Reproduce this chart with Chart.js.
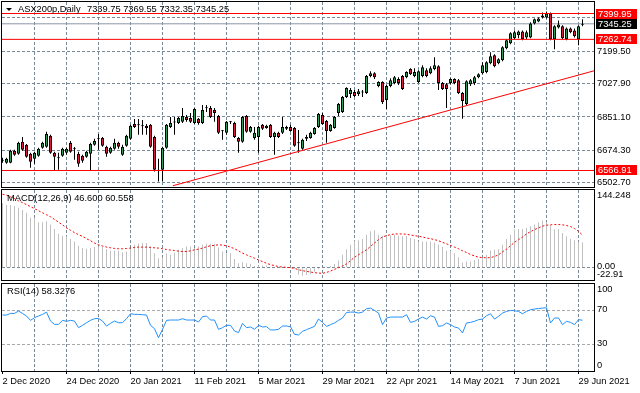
<!DOCTYPE html>
<html>
<head>
<meta charset="utf-8">
<script src="https://cdn.jsdelivr.net/npm/chart.js@4.4.1/dist/chart.umd.min.js"></script>
<style>
  html, body { margin: 0; padding: 0; background: #fff; }
  #wrap { position: relative; width: 640px; height: 393px; overflow: hidden; background: #fff; }
  canvas { position: absolute; left: 0; }
</style>
</head>
<body>
<div id="wrap">
  <canvas id="priceChart" width="640" height="188" style="top:0px"></canvas>
  <canvas id="macdChart" width="640" height="94" style="top:188px"></canvas>
  <canvas id="rsiChart" width="640" height="111" style="top:282px"></canvas>
</div>
<script>
// ASX200p daily bars, 2 Dec 2020 .. 30 Jun 2021
const opens = [6619,6608,6608,6672,6656,6719,6703,6656,6629,6645,
  6687,6693,6751,6661,6637,6645,6661,6714,6680,6656,
  6645,6640,6656,6703,6733,6740,6693,6661,6682,6714,
  6650,6698,6735,6814,6807,6805,6804,6809,6745,6571,
  6571,6687,6798,6822,6819,6825,6851,6846,6819,6841,
  6819,6897,6899,6888,6856,6775,6767,6823,6819,6740,
  6719,6856,6772,6740,6745,6809,6793,6809,6745,6767,
  6767,6788,6798,6793,6711,6682,6735,6740,6761,6798,
  6862,6830,6777,6793,6872,6877,6957,6973,6983,6973,
  6981,6978,7068,7083,7015,7036,6941,7015,7031,7052,
  7068,7062,7105,7068,7036,7068,7099,7083,7105,7120,
  7031,7025,7031,7052,7046,6978,6920,7025,7031,7062,
  7083,7089,7136,7178,7136,7152,7215,7242,7268,7284,
  7305,7273,7273,7347,7358,7379,7379,7400,7263,7326,
  7332,7263,7321,7310,7263,7339.75];
const highs = [6635,6635,6677,6677,6719,6745,6708,6661,6666,6687,
  6719,6772,6756,6666,6661,6687,6687,6724,6692,6666,
  6650,6672,6714,6735,6761,6745,6698,6693,6735,6719,
  6703,6756,6809,6840,6840,6835,6814,6814,6751,6629,
  6693,6814,6851,6851,6851,6899,6862,6872,6899,6846,
  6914,6914,6909,6899,6862,6782,6830,6830,6825,6745,
  6856,6862,6803,6798,6804,6814,6809,6814,6772,6772,
  6851,6804,6809,6798,6782,6735,6756,6772,6798,6872,
  6872,6835,6814,6856,6925,6962,7009,7004,6994,6999,
  6994,7073,7094,7088,7041,7041,7020,7057,7068,7062,
  7073,7094,7110,7110,7099,7126,7110,7120,7168,7126,
  7036,7031,7057,7057,7052,6983,7046,7052,7068,7083,
  7141,7147,7194,7184,7163,7226,7263,7300,7310,7310,
  7310,7310,7353,7374,7379,7405,7411,7405,7337,7363,
  7337,7326,7326,7321,7337,7369.55];
const lows = [6608,6603,6605,6645,6650,6672,6635,6582,6603,6640,
  6682,6687,6656,6566,6571,6640,6650,6661,6624,6587,
  6608,6635,6566,6698,6677,6693,6640,6656,6677,6682,
  6645,6693,6730,6793,6756,6756,6756,6687,6561,6508,
  6508,6682,6793,6756,6814,6819,6825,6819,6814,6809,
  6814,6877,6846,6825,6761,6730,6756,6814,6740,6661,
  6714,6767,6767,6730,6661,6782,6788,6740,6650,6740,
  6761,6782,6772,6693,6661,6677,6724,6735,6756,6793,
  6809,6714,6772,6788,6856,6872,6951,6951,6957,6962,
  6957,6973,7062,7052,7009,6920,6893,7009,7025,7020,
  6994,7057,7073,7062,7031,7062,7062,7078,7099,6994,
  6994,6899,7025,7025,6973,6841,6914,7015,7020,7057,
  7078,7083,7131,7115,7131,7147,7210,7237,7263,7268,
  7258,7263,7268,7342,7353,7374,7374,7258,7210,7321,
  7263,7258,7295,7273,7231,7332.35];
const closes = [6624,6629,6672,6650,6714,6677,6640,6613,6661,6682,
  6714,6761,6661,6640,6632,6682,6682,6666,6684,6603,
  6619,6666,6708,6724,6737,6698,6656,6687,6714,6693,
  6693,6751,6804,6798,6810,6802,6793,6693,6571,6563,
  6687,6809,6819,6827,6846,6856,6835,6825,6893,6819,
  6888,6900,6851,6872,6767,6779,6825,6826,6745,6719,
  6851,6772,6798,6767,6798,6788,6804,6745,6767,6745,
  6798,6798,6777,6698,6716,6730,6745,6767,6793,6867,
  6814,6777,6809,6851,6920,6957,7004,6994,6962,6988,
  6985,7068,7083,7062,7036,6930,7015,7046,7062,7031,
  6999,7089,7078,7089,7094,7115,7068,7110,7126,7031,
  6999,6999,7052,7031,6978,6936,7041,7046,7062,7078,
  7126,7141,7173,7120,7157,7221,7258,7295,7300,7305,
  7263,7300,7347,7369,7374,7390,7400,7263,7332,7342,
  7268,7321,7300,7279,7332,7345.25];

// MACD(12,26,9): main histogram and signal
const macdMain = [119.6,116.4,116.4,114.6,111.4,107.0,102.0,92.6,92.6,84.5,
  84.5,86.4,80.1,72.0,63.2,59.5,58.2,53.2,48.8,40.7,
  36.3,35.1,36.3,38.2,39.4,38.2,34.4,31.9,31.9,31.3,
  28.8,30.0,36.3,42.6,44.4,45.7,45.7,39.4,26.9,17.5,
  19.4,26.9,23.8,28.2,33.2,36.3,39.4,39.4,36.3,39.4,
  42.6,44.4,44.4,44.4,37.6,30.0,26.9,26.9,16.3,8.1,
  10.0,8.1,6.9,3.1,3.8,3.8,3.8,1.9,-1.3,0.6,
  0.6,0.0,1.9,-3.1,-13.0,-15.0,-13.8,-11.9,-7.5,-3.1,
  -1.3,1.9,3.1,6.9,13.1,23.8,34.4,42.6,50.1,50.7,
  53.2,61.3,67.6,69.5,61.3,59.5,58.2,60.1,61.3,59.5,
  58.2,59.5,55.1,53.2,48.8,48.8,48.8,48.8,46.9,42.6,
  38.2,31.9,31.3,26.9,19.4,9.4,11.3,11.3,14.4,15.7,
  18.8,23.8,31.9,33.2,34.4,42.6,53.2,61.3,70.7,72.0,
  72.0,73.9,77.0,80.1,84.5,87.6,84.5,78.3,70.7,72.0,
  64.5,58.2,53.2,50.7,48.2,46.600];
const macdSignal = [136.5,134.6,131.5,128.3,124.0,120.8,117.1,113.3,109.6,105.8,
  102.0,98.3,94.5,89.5,84.5,79.5,73.9,69.5,65.1,61.3,
  58.2,53.8,50.1,45.7,42.6,40.1,38.2,36.9,35.7,35.1,
  35.1,35.7,36.3,37.6,38.2,38.2,38.2,37.6,36.9,36.3,
  35.1,33.8,32.6,31.9,30.7,30.0,30.0,31.3,33.2,34.4,
  36.3,38.8,40.7,41.3,42.6,41.9,40.7,38.2,35.1,31.3,
  26.9,23.8,20.7,17.5,14.4,11.3,8.1,5.6,3.8,1.9,
  1.3,0.6,0.0,-1.3,-3.8,-5.6,-6.9,-8.1,-9.4,-10.0,
  -10.6,-8.8,-6.3,-3.1,0.0,3.1,6.9,13.1,19.4,23.8,
  28.8,33.2,39.4,45.7,52.0,57.0,59.5,61.3,62.6,62.6,
  62.6,62.0,60.7,59.5,58.2,57.0,55.1,53.8,52.0,50.1,
  47.0,44.4,41.3,38.2,35.1,31.3,28.2,24.4,21.9,19.4,
  18.8,18.2,18.8,20.7,23.8,29.4,34.4,40.7,47.0,52.0,
  57.0,62.6,67.0,70.7,73.9,77.0,78.9,79.5,80.1,80.1,
  79.5,78.3,76.4,72.6,67.6,60.558];

// RSI(14)
const rsi = [64.3,64.3,66.2,66.2,68.9,66.2,63.2,58.2,61.3,63.2,
  65.1,67.7,57.4,53.6,53.6,58.2,57.1,58.2,57.4,49.8,
  52.5,55.5,58.2,60.1,60.5,57.4,51.7,54.8,57.4,55.5,
  55.5,60.1,65.8,65.1,65.1,64.7,64.3,52.5,48.7,38.2,
  47.9,58.2,58.6,58.6,58.6,60.1,58.6,58.6,58.6,56.3,
  62.4,63.2,58.6,58.6,47.9,49.8,52.5,52.5,46.0,44.1,
  54.8,49.8,50.6,47.9,52.5,50.6,51.0,47.2,47.2,47.9,
  51.7,51.7,51.0,42.2,41.4,45.6,47.5,49.4,51.3,59.7,
  55.9,51.3,53.3,55.2,58.2,60.9,67.3,67.7,67.7,66.6,
  67.7,71.5,72.3,69.6,66.6,53.3,60.9,62.0,62.0,62.0,
  62.0,64.7,55.9,57.1,59.7,62.0,59.7,63.5,62.0,51.3,
  52.1,55.2,53.3,50.6,49.4,43.7,55.2,55.9,57.1,59.0,
  59.7,63.5,65.8,59.7,62.8,66.6,68.5,69.6,69.3,68.5,
  65.8,68.5,70.4,71.2,71.9,72.3,72.7,55.2,60.9,60.9,
  53.3,57.1,55.9,53.3,59.0,58.3276];

// axis labels
const dateLabels = ['2 Dec 2020', '24 Dec 2020', '20 Jan 2021', '11 Feb 2021', '5 Mar 2021',
  '29 Mar 2021', '22 Apr 2021', '14 May 2021', '7 Jun 2021', '29 Jun 2021'];
const dateBars = [0, 16, 32, 48, 64, 80, 96, 112, 128, 144];
const gridBars = [8, 16, 24, 32, 40, 48, 56, 64, 72, 80, 88, 96, 104, 112, 120, 128, 136, 144];
const priceTicks = [7376.30, 7199.50, 7027.90, 6851.10, 6674.30, 6502.70];
const macdTicks = [144.248, 0, -22.91];
const macdTickText = ['144.248', '0.00', '-22.91'];
const rsiTicks = [100, 70, 30, 0];
const rsiLevels = [70, 30];

// objects drawn on the chart
const redLevels = [7399.95, 7262.74, 6566.91];
const trendLine = [{ x: 42.6, y: 6486 }, { x: 147.9, y: 7096 }];

const X_MIN = -0.125, X_MAX = 147.875;
const PRICE_MIN = 6479.36, PRICE_MAX = 7460.97;
const FONT_FAMILY = '"Liberation Sans", Arial, Helvetica, sans-serif';
const FONT_SIZE = 9.3;
const font = { family: FONT_FAMILY, size: FONT_SIZE };
const fontCss = FONT_SIZE + 'px ' + FONT_FAMILY;
const GRID = '#778899';
const UP = '#2f9e5c', DOWN = '#d81b3c';

const last = closes.length - 1;

function noPadding(s) {
  s.paddingTop = 0; s.paddingBottom = 0; s.paddingLeft = 0; s.paddingRight = 0;
}

function xAxis(showLabels) {
  return {
    type: 'linear', min: X_MIN, max: X_MAX, bounds: 'data', offset: false,
    afterBuildTicks: s => { s.ticks = (showLabels ? [0].concat(gridBars) : gridBars).map(v => ({ value: v })); },
    afterFit: s => { s.height = showLabels ? 22 : 0; noPadding(s); },
    grid: {
      offset: false,
      color: c => (c.tick && c.tick.value === 0) ? 'rgba(0,0,0,0)' : GRID,
      lineWidth: 1,
      drawTicks: showLabels,
      tickLength: 3,
      tickColor: c => (c.tick && dateBars.includes(c.tick.value)) ? '#000' : 'rgba(0,0,0,0)'
    },
    border: { display: false, dash: [3, 2] },
    ticks: {
      display: showLabels, autoSkip: false, maxRotation: 0, minRotation: 0,
      align: 'start', padding: 2, color: '#000', font: font,
      callback: v => { const k = dateBars.indexOf(v); return k >= 0 ? dateLabels[k] : ''; }
    }
  };
}

function yAxis(min, max, tickVals, showLabels, gridColor) {
  return {
    type: 'linear', position: 'right', min: min, max: max, bounds: 'data',
    afterBuildTicks: s => { s.ticks = tickVals.map(v => ({ value: v })); },
    afterFit: s => { s.width = 46; noPadding(s); },
    grid: { color: gridColor, lineWidth: 1, drawTicks: false },
    border: { display: false, dash: [3, 2] },
    ticks: { display: showLabels, padding: 3, color: '#000', font: font, callback: v => v.toFixed(2) }
  };
}

function baseOptions(padBottom, xLabels, y) {
  return {
    responsive: false, animation: false, devicePixelRatio: 1, events: [],
    layout: { padding: { left: 2, top: 2, right: 0, bottom: padBottom } },
    plugins: { legend: { display: false }, tooltip: { enabled: false } },
    scales: { x: xAxis(xLabels), y: y }
  };
}

const panelFrame = {
  id: 'panelFrame',
  afterDraw(chart) {
    const { ctx, chartArea: a } = chart;
    ctx.save();
    ctx.strokeStyle = '#000';
    ctx.lineWidth = 1;
    ctx.strokeRect(a.left - 0.5, a.top - 0.5, a.right - a.left + 1, a.bottom - a.top + 1);
    ctx.restore();
  }
};

function sideLabels(ticks, texts) {
  return {
    id: 'sideLabels',
    afterDraw(chart) {
      const { ctx, chartArea: a } = chart;
      const ys = chart.scales.y;
      ctx.save();
      ctx.font = fontCss;
      ctx.fillStyle = '#000';
      ctx.textAlign = 'left';
      ticks.forEach((v, k) => {
        let y = ys.getPixelForValue(v);
        if (v === ys.max) { ctx.textBaseline = 'top'; y = a.top + 1; }
        else if (v === ys.min) { ctx.textBaseline = 'bottom'; y = a.bottom - 1; }
        else { ctx.textBaseline = 'middle'; y -= 1; }
        ctx.fillText(texts[k], a.right + 3, y);
      });
      ctx.restore();
    }
  };
}

function panelTitle(text, y) {
  return {
    id: 'panelTitle',
    afterDraw(chart) {
      const ctx = chart.ctx;
      ctx.save();
      ctx.font = fontCss;
      ctx.fillStyle = '#000';
      ctx.textBaseline = 'middle';
      ctx.fillText(text, 7, y);
      ctx.restore();
    }
  };
}

const priceOverlay = {
  id: 'priceOverlay',
  afterDraw(chart) {
    const { ctx, chartArea: a } = chart;
    const ys = chart.scales.y;
    ctx.save();
    // symbol header
    ctx.fillStyle = '#000';
    ctx.beginPath();
    ctx.moveTo(6, 8); ctx.lineTo(12, 8); ctx.lineTo(9, 11); ctx.closePath();
    ctx.fill();
    ctx.font = fontCss;
    ctx.textBaseline = 'middle';
    ctx.fillText('ASX200p,Daily', 18, 9.5);
    ctx.fillText([opens[last], highs[last], lows[last], closes[last]].map(v => v.toFixed(2)).join(' '), 87, 9.5);
    // price boxes on the axis
    const box = (v, bg) => {
      const y = Math.round(ys.getPixelForValue(v));
      ctx.fillStyle = bg;
      ctx.fillRect(a.right + 2, y - 5, 41, 10);
      ctx.fillStyle = '#fff';
      ctx.fillText(v.toFixed(2), a.right + 4, y + 0.5);
    };
    redLevels.forEach(v => box(v, '#ff0000'));
    box(closes[last], '#000');
    ctx.restore();
  }
};

const hLine = (v, color, order) => ({
  type: 'line', data: [{ x: X_MIN - 1, y: v }, { x: X_MAX + 1, y: v }],
  borderColor: color, borderWidth: 1, pointRadius: 0, order: order
});

new Chart(document.getElementById('priceChart'), {
  type: 'bar',
  data: {
    datasets: [
      hLine(closes[last], '#8a97a6', 6),
      {
        label: 'wick', data: opens.map((o, i) => ({ x: i, y: [lows[i], highs[i]] })),
        backgroundColor: '#000', borderWidth: 0, barThickness: 1, grouped: false, inflateAmount: 0, order: 5
      },
      {
        label: 'body', data: opens.map((o, i) => ({ x: i, y: [o, closes[i]] })),
        backgroundColor: closes.map((c, i) => c >= opens[i] ? UP : DOWN),
        borderColor: '#000', borderWidth: 1, borderSkipped: false, barThickness: 3,
        grouped: false, inflateAmount: 0, minBarLength: 1, order: 4
      },
      ...redLevels.map(v => hLine(v, '#ff0000', 1)),
      { type: 'line', data: trendLine, borderColor: '#ff0000', borderWidth: 1, pointRadius: 0, order: 1 }
    ]
  },
  options: baseOptions(1, false, yAxis(PRICE_MIN, PRICE_MAX, priceTicks, true, GRID)),
  plugins: [panelFrame, priceOverlay]
});

new Chart(document.getElementById('macdChart'), {
  type: 'bar',
  data: {
    datasets: [
      {
        type: 'line', data: macdSignal.map((v, i) => ({ x: i, y: v })),
        borderColor: '#ff0000', borderWidth: 1, borderDash: [2, 2], pointRadius: 0, order: 1
      },
      {
        data: macdMain.map((v, i) => ({ x: i, y: v })),
        backgroundColor: '#c0c0c0', borderWidth: 0, barThickness: 1, inflateAmount: 0, order: 2
      }
    ]
  },
  options: baseOptions(2, false, yAxis(macdTicks[2], macdTicks[0], [0], false, GRID)),
  plugins: [panelFrame, sideLabels(macdTicks, macdTickText),
    panelTitle('MACD(12,26,9) ' + macdMain[last].toFixed(3) + ' ' + macdSignal[last].toFixed(3), 10.5)]
});

new Chart(document.getElementById('rsiChart'), {
  type: 'line',
  data: {
    datasets: [{
      data: rsi.map((v, i) => ({ x: i, y: v })),
      borderColor: '#1e90ff', borderWidth: 1, pointRadius: 0, tension: 0
    }]
  },
  options: baseOptions(0, true, yAxis(rsiTicks[3], rsiTicks[0], rsiLevels, false, '#a9a9a9')),
  plugins: [panelFrame, sideLabels(rsiTicks, rsiTicks.map(String)),
    panelTitle('RSI(14) ' + rsi[last].toFixed(4), 9.5)]
});
</script>
</body>
</html>
